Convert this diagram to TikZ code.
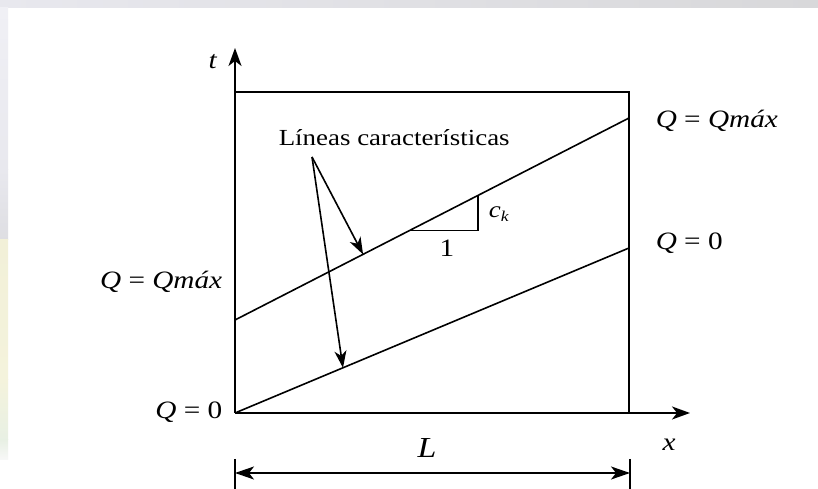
\documentclass[tikz,border=0pt]{standalone}
\usepackage{fontspec}
\usepackage{graphicx}
\setmainfont{Liberation Serif}
\usetikzlibrary{arrows.meta,calc}
\newcommand\hstretch[1]{\scalebox{1.17}[1]{#1}}
\begin{document}
\begin{tikzpicture}[x=1pt,y=1pt,line width=1.6pt,
  axarrow/.style={-{Stealth[length=18pt,width=13pt,inset=5pt]}},
  ptr/.style={-{Stealth[length=17pt,width=12pt,inset=5pt]}},
  dimarrow/.style={{Stealth[length=19pt,width=13pt,inset=5pt]}-{Stealth[length=19pt,width=13pt,inset=5pt]}},
  lbl/.style={inner sep=0pt,font=\fontsize{25}{30}\selectfont},
  txt/.style={inner sep=0pt,font=\fontsize{23}{28}\selectfont},
]
\useasboundingbox (0,0) rectangle (818,489);
% background
\fill[white] (0,0) rectangle (818,489);
\shade[left color={rgb,255:red,232;green,232;blue,238},right color={rgb,255:red,216;green,216;blue,218}] (0,481) rectangle (818,489);
\shade[top color={rgb,255:red,240;green,240;blue,245},bottom color={rgb,255:red,232;green,232;blue,238}] (0,319) rectangle (8,481);
\shade[top color={rgb,255:red,232;green,232;blue,238},bottom color={rgb,255:red,222;green,222;blue,226}] (0,249) rectangle (8,319);
\shade[top color={rgb,255:red,242;green,240;blue,216},bottom color={rgb,255:red,244;green,243;blue,220}] (0,109) rectangle (8,249);
\shade[top color={rgb,255:red,244;green,243;blue,220},bottom color={rgb,255:red,232;green,240;blue,228}] (0,49) rectangle (8,109);
\shade[top color={rgb,255:red,232;green,240;blue,228},bottom color={rgb,255:red,248;green,248;blue,248}] (0,29) rectangle (8,49);

% key points
\coordinate (O) at (235,76);
\coordinate (ttip) at (235,441);
\coordinate (xtip) at (690,76);
\coordinate (BL) at (235,76);
\coordinate (BR) at (629,76);
\coordinate (TL) at (235,397);
\coordinate (TR) at (629,397);
\coordinate (U1) at (235,169);
\coordinate (U2) at (629,371);
\coordinate (L1) at (235,76);
\coordinate (L2) at (629,241);
\coordinate (src) at (312,332);
\coordinate (tipU) at ($(U1)!0.325!(U2)$);
\coordinate (tipL) at ($(L1)!0.274!(L2)$);
\coordinate (triA) at ($(U1)!0.444!(U2)$);
\coordinate (triC) at ($(U1)!0.617!(U2)$);
\coordinate (triB) at (triC |- triA);
\coordinate (dL) at (235,16);
\coordinate (dR) at (630,16);
\coordinate (tickLt) at (235,30);
\coordinate (tickLb) at (235,0);
\coordinate (tickRt) at (630,30);
\coordinate (tickRb) at (630,0);

% axes
\draw[axarrow] (O) -- (ttip);
\draw[axarrow] (O) -- (xtip);
% box
\draw (TL) -- (TR) -- (BR);
% characteristic lines
\draw (U1) -- (U2);
\draw (L1) -- (L2);
% slope triangle
\draw (triA) -- (triB) -- (triC);
% pointers
\draw[ptr] (src) -- (tipU);
\draw[ptr] (src) -- (tipL);
% dimension
\draw (tickLt) -- (tickLb);
\draw (tickRt) -- (tickRb);
\draw[dimarrow] (dL) -- (dR);

% labels
\node[lbl,anchor=base] (tlab) at (213,420) {\hstretch{\textit{t}}};
\node[lbl,anchor=base] (xlab) at (669,38) {\hstretch{\textit{x}}};
\node[lbl,anchor=base,font=\fontsize{29}{32}\selectfont] (Llab) at (427,31) {\hstretch{\textit{L}}};
\node[lbl,anchor=base west] (qmr) at (655,361) {\hstretch{\textit{Q} = \textit{Qmáx}}};
\node[lbl,anchor=base west] (q0r) at (655,239) {\hstretch{\textit{Q} = 0}};
\node[lbl,anchor=base east] (qml) at (223,200) {\hstretch{\textit{Q} = \textit{Qmáx}}};
\node[lbl,anchor=base east] (q0l) at (223,70) {\hstretch{\textit{Q} = 0}};
\node[txt,anchor=base west] (lineas) at (278,343) {\hstretch{Líneas características}};
\node[txt,anchor=base west,font=\fontsize{23}{26}\selectfont] (ck) at (488,271) {\hstretch{\textit{c}\raisebox{-0.35ex}{\fontsize{15}{16}\selectfont\textit{k}}}};
\node[lbl,anchor=base] (one) at (447,232) {\hstretch{1}};
\end{tikzpicture}
\end{document}
